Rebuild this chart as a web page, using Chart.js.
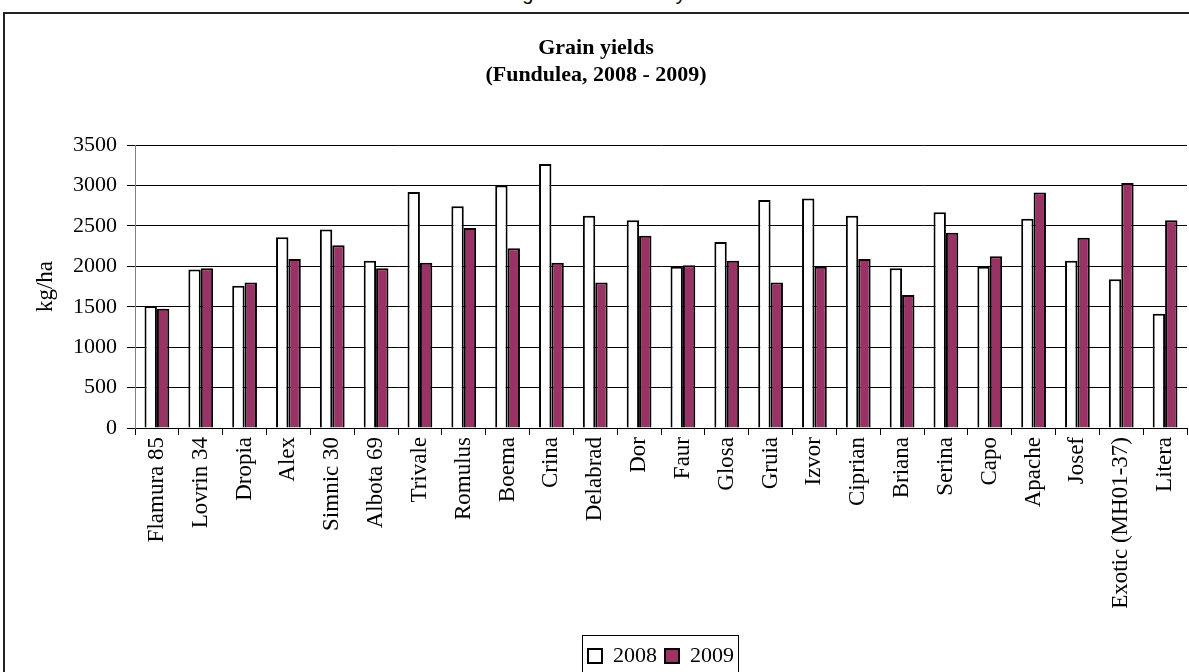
<!DOCTYPE html>
<html>
<head>
<meta charset="utf-8">
<script src="https://cdn.jsdelivr.net/npm/chart.js@4.4.1/dist/chart.umd.min.js"></script>
<style>
    body { margin: 0; background: #fff; overflow: hidden; width: 1189px; height: 672px; position: relative; }
    .page-head { position: absolute; left: 459px; top: -18px; font: 20px 'Liberation Sans', Arial, sans-serif; line-height: 23px; white-space: nowrap; color: #000; }
    .chart-box { position: absolute; left: 3px; top: 12px; width: 1202px; height: 686px; border: 2px solid #222; background: #fff; }
</style>
</head>
<body>
<div class="page-head">Wheat grain in both test years</div>
<div class="chart-box"><canvas id="yieldChart" width="1202" height="686"></canvas></div>
<script>
    // Cultivars and yields (kg/ha)
    const cultivars = ['Flamura 85', 'Lovrin 34', 'Dropia', 'Alex', 'Simnic 30', 'Albota 69', 'Trivale', 'Romulus',
        'Boema', 'Crina', 'Delabrad', 'Dor', 'Faur', 'Glosa', 'Gruia', 'Izvor', 'Ciprian', 'Briana', 'Serina',
        'Capo', 'Apache', 'Josef', 'Exotic (MH01-37)', 'Litera'];
    const yield2008 = [1510, 1960, 1760, 2360, 2455, 2070, 2920, 2745, 3000, 3265, 2625, 2570, 1995, 2300, 2820,
        2840, 2625, 1975, 2670, 1995, 2590, 2070, 1840, 1415];
    const yield2009 = [1475, 1975, 1800, 2090, 2260, 1975, 2045, 2475, 2225, 2045, 1800, 2380, 2015, 2070, 1800,
        1995, 2090, 1645, 2415, 2125, 2915, 2355, 3030, 2570];
    const yTicks = [0, 500, 1000, 1500, 2000, 2500, 3000, 3500];

    const serif = "'Liberation Serif', 'Times New Roman', serif";

    // Box round the legend items, like the Excel legend frame
    const legendFrame = {
        id: 'legendFrame',
        afterDraw(chart) {
            const boxes = chart.legend.legendHitBoxes;
            if (!boxes || !boxes.length) return;
            const first = boxes[0], last = boxes[boxes.length - 1];
            const ctx = chart.ctx;
            ctx.save();
            ctx.strokeStyle = '#000';
            ctx.lineWidth = 1;
            const x1 = Math.round(first.left - 6) + 0.5;
            const x2 = Math.round(last.left + last.width + 4) + 0.5;
            const midY = first.top + first.height / 2;
            ctx.strokeRect(x1, Math.round(midY - 21) + 0.5, x2 - x1, 44);
            ctx.restore();
        }
    };

    const ctx = document.getElementById('yieldChart').getContext('2d');
    new Chart(ctx, {
        type: 'bar',
        data: {
            labels: cultivars,
            datasets: [{
                label: '2008',
                data: yield2008,
                backgroundColor: '#ffffff',
                borderColor: '#000000',
                borderWidth: 2
            },
            {
                label: '2009',
                data: yield2009,
                backgroundColor: '#993366',
                borderColor: '#000000',
                borderWidth: 2
            }]
        },
        options: {
            responsive: false,
            animation: false,
            layout: {
                padding: { left: 0, right: 20, top: 0, bottom: 23 }
            },
            datasets: {
                bar: {
                    categoryPercentage: 0.565,
                    barPercentage: 1.0
                }
            },
            plugins: {
                title: {
                    display: true,
                    text: ['Grain yields', '(Fundulea, 2008 - 2009)'],
                    color: '#000',
                    font: { family: serif, size: 22, weight: 'bold', lineHeight: 1.23 },
                    padding: { top: 21, bottom: 56 }
                },
                legend: {
                    position: 'bottom',
                    fullSize: false,
                    labels: {
                        color: '#000',
                        font: { family: serif, size: 22 },
                        boxWidth: 14,
                        boxHeight: 14,
                        padding: 8
                    }
                },
                tooltip: { enabled: false }
            },
            scales: {
                x: {
                    grid: {
                        drawOnChartArea: false,
                        drawTicks: true,
                        tickLength: 7,
                        color: '#000'
                    },
                    border: { color: '#000', width: 1 },
                    ticks: {
                        color: '#000',
                        font: { family: serif, size: 23 },
                        minRotation: 90,
                        maxRotation: 90,
                        autoSkip: false,
                        padding: 2
                    },
                    afterFit(scale) {
                        scale.height = 209;
                    }
                },
                y: {
                    min: 0,
                    max: 3500,
                    afterBuildTicks(scale) {
                        scale.ticks = yTicks.map(v => ({ value: v }));
                    },
                    grid: {
                        color: '#000',
                        tickLength: 8
                    },
                    border: { color: '#808080', width: 1 },
                    ticks: {
                        color: '#000',
                        font: { family: serif, size: 22 },
                        padding: 10,
                        callback: v => String(v)
                    },
                    title: {
                        display: true,
                        text: 'kg/ha',
                        color: '#000',
                        font: { family: serif, size: 23 },
                        padding: { top: 27, bottom: 0 }
                    },
                    afterFit(scale) {
                        scale.width = 130;
                    }
                }
            }
        },
        plugins: [legendFrame]
    });
</script>
</body>
</html>
